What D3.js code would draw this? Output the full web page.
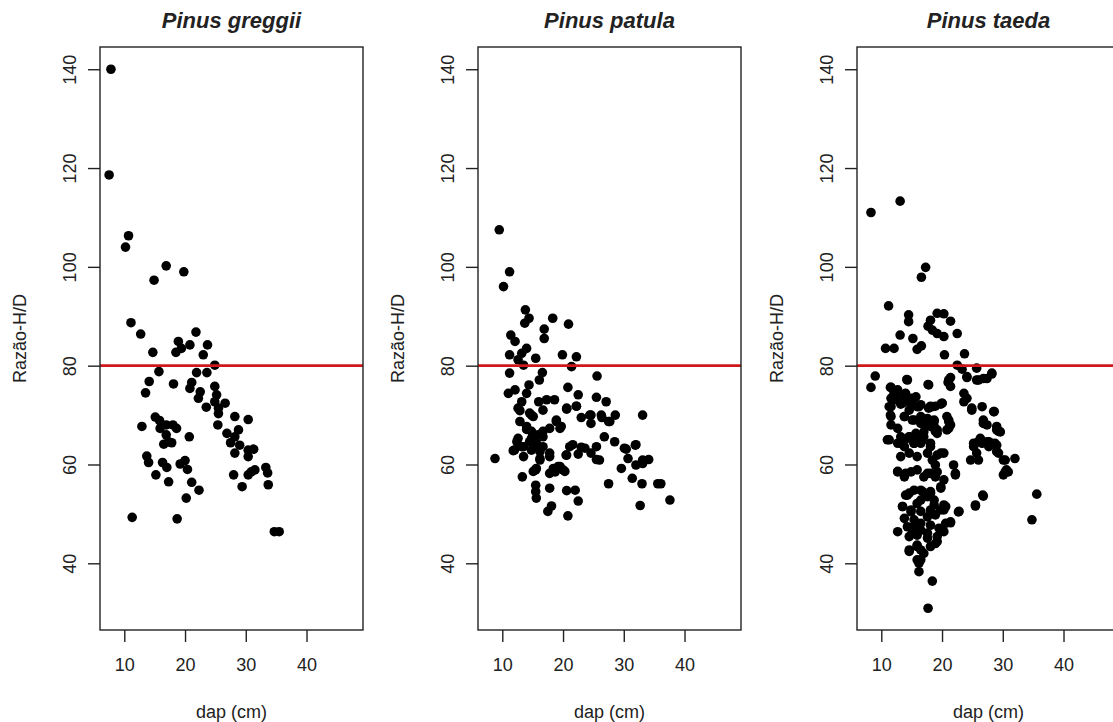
<!DOCTYPE html>
<html>
<head>
<meta charset="utf-8">
<script src="https://cdn.jsdelivr.net/npm/d3@7"></script>
<style>
  body { margin: 0; background: #fff; }
  text { font-family: "Liberation Sans", Arial, sans-serif; fill: #222; }
</style>
</head>
<body>
<svg id="chart" width="1113" height="722"></svg>
<script>
// [dap (cm), razão H/D]
const greggii = [
  [7.8,140.0],[7.5,118.6],[10.7,106.3],[10.2,104.0],[16.9,100.2],[14.9,97.3],[19.8,99.0],
  [11.1,88.7],[12.7,86.4],[21.8,86.8],[14.7,82.7],[18.9,84.9],[18.5,82.7],[19.4,83.5],
  [20.8,84.2],[23.7,84.2],[23.0,82.2],[15.7,78.8],[14.1,76.8],[13.5,74.5],[18.1,76.3],
  [21.9,78.6],[23.6,78.6],[24.9,80.1],[21.1,76.6],[20.8,75.4],[22.5,74.7],[22.2,73.4],
  [23.5,71.6],[24.9,75.8],[25.2,74.1],[24.9,72.7],[26.6,72.4],[25.5,71.4],[25.5,70.3],
  [28.2,69.7],[30.4,69.1],[25.4,68.0],[26.9,66.3],[28.8,67.0],[28.2,65.6],[27.5,64.4],
  [29.0,63.9],[28.2,62.3],[30.4,62.9],[31.3,63.1],[30.4,61.6],[30.9,58.5],[31.5,58.9],
  [30.4,57.9],[33.3,59.4],[33.6,58.3],[33.7,55.9],[28.0,57.9],[29.4,55.5],[34.7,46.4],
  [35.5,46.4],[15.1,69.6],[15.8,68.9],[15.9,67.3],[16.9,68.0],[18.0,68.0],[18.6,67.3],
  [16.9,66.0],[17.3,64.6],[16.5,64.1],[17.8,64.4],[20.7,65.6],[12.9,67.7],[13.7,61.7],
  [14.0,60.4],[16.3,60.4],[17.0,59.4],[15.2,57.9],[17.3,56.5],[19.2,60.1],[20.0,60.8],
  [20.4,59.0],[21.1,56.4],[22.3,54.8],[20.2,53.2],[11.3,49.3],[18.7,49.0]
];

const patula = [
  [9.5,107.5],[11.2,99.0],[10.2,96.0],[13.8,91.3],[14.4,89.6],[13.7,88.6],[18.3,89.6],
  [20.9,88.4],[16.9,87.4],[16.9,85.5],[11.4,86.2],[12.1,84.9],[14.0,83.5],[13.2,82.5],
  [11.2,82.2],[12.6,81.2],[15.5,81.5],[13.5,80.1],[19.9,82.2],[22.2,81.8],[21.4,79.8],
  [11.2,78.5],[16.6,78.6],[16.1,77.1],[25.6,77.9],[12.1,75.1],[11.0,74.4],[14.4,76.1],
  [14.0,74.4],[20.8,75.6],[22.5,74.1],[25.5,73.6],[27.1,72.7],[13.2,72.7],[16.0,72.7],
  [17.3,73.1],[18.6,73.1],[16.7,71.0],[20.6,71.2],[22.2,71.8],[12.9,70.9],[14.8,70.0],
  [23.0,69.5],[24.6,70.0],[26.4,69.5],[28.6,70.0],[33.1,70.0],[12.9,68.7],[18.9,69.0],
  [24.6,68.3],[27.5,68.7],[19.7,67.7],[14.0,67.1],[17.8,67.3],[26.8,65.6],[28.5,64.6],
  [12.6,65.3],[14.8,65.3],[16.7,65.6],[16.0,63.6],[12.0,62.9],[13.5,63.6],[21.1,63.6],
  [23.0,63.5],[25.5,63.6],[30.1,63.3],[31.9,63.9],[20.6,61.9],[22.5,62.1],[24.6,62.3],
  [25.5,61.0],[13.5,61.6],[16.2,61.2],[17.8,61.6],[30.7,61.2],[32.0,59.9],[34.1,61.0],
  [33.1,60.2],[8.8,61.2],[29.6,59.2],[15.5,58.9],[17.8,58.2],[19.5,59.6],[20.3,58.6],
  [13.3,57.5],[31.4,57.2],[33.0,56.1],[35.6,56.1],[36.1,56.1],[27.5,56.1],[15.5,55.8],
  [17.8,55.2],[20.6,54.7],[22.0,54.8],[15.6,53.2],[22.5,52.6],[18.1,51.6],[17.5,50.5],
  [20.8,49.6],[32.7,51.7],[37.6,52.8],[15.5,54.5],
  [12.6,71.4],[14.5,70.4],[15.1,69.7],[14.0,67.7],[14.8,66.7],[15.9,66.0],[16.7,66.7],
  [18.9,68.7],[19.5,67.3],[20.6,71.4],[22.2,71.8],[24.4,70.0],[26.3,70.0],[27.7,68.7],
  [12.4,64.6],[13.2,63.6],[14.5,64.6],[15.6,64.3],[16.7,63.6],[17.8,62.3],[14.8,62.9],
  [16.2,62.6],[21.6,64.0],[23.6,63.3],[26.0,60.9],[20.5,61.9],[32.0,64.0],[30.4,63.1],
  [33.1,60.9],[18.4,59.2],[19.2,59.6],[20.0,58.9],[18.7,58.5],[15.1,58.6],[15.6,59.2],
  [11.8,62.8],[16.2,60.9]
];

const taeda = [
  [8.3,111.0],[13.1,113.3],[17.3,99.9],[16.6,97.9],[11.2,92.1],[14.5,90.3],[14.5,88.9],
  [13.1,86.2],[15.2,85.5],[10.7,83.5],[12.1,83.5],[15.9,83.3],[16.6,84.0],[19.2,90.6],
  [20.3,90.5],[21.4,89.0],[18.1,89.2],[17.7,88.0],[18.4,87.2],[19.2,86.5],[20.3,85.9],
  [22.5,86.5],[20.4,82.2],[23.7,82.4],[22.5,80.1],[23.3,79.3],[25.7,79.5],[9.0,77.9],
  [8.3,75.6],[14.2,77.2],[17.7,76.2],[21.4,77.6],[21.0,76.6],[24.1,77.6],[26.0,77.1],
  [27.4,77.4],[28.2,78.3],
  [11.6,75.6],[12.1,74.5],[11.6,73.4],[12.9,73.4],[14.0,74.4],[14.9,73.4],[13.5,72.4],
  [15.4,72.0],[11.6,71.7],[15.9,71.7],
  [23.6,74.4],[24.1,73.4],[24.9,71.4],[26.6,71.7],[28.5,70.7],[26.8,69.0],[27.4,68.0],
  [29.0,67.7],[29.6,66.6],
  [17.8,71.4],[18.9,71.8],[20.0,72.4],[16.5,69.7],[17.6,69.3],[18.7,68.7],[17.3,67.7],
  [18.1,67.7],[19.2,67.0],[20.8,69.7],[21.1,68.7],[20.8,67.0],
  [11.6,69.7],[11.6,68.0],[12.7,67.3],[11.0,65.0],[13.2,65.6],[14.3,65.3],[15.4,64.3],
  [16.5,64.3],[18.1,64.3],[25.2,64.3],[26.3,65.3],[27.7,64.6],[29.0,63.9],
  [13.2,72.2],[14.9,72.1],[16.5,72.1],[18.1,71.8],[19.8,72.2],[23.6,72.7],[24.9,71.0],
  [28.6,70.7],[13.8,69.7],[15.4,69.0],[16.5,68.3],[17.6,68.0],[18.7,69.0],[18.9,66.7],
  [21.1,69.0],[21.1,67.3],[26.8,68.3],[29.0,67.0],[29.3,66.7],
  [13.2,64.3],[14.6,65.6],[15.9,65.3],[17.0,65.6],[18.1,63.6],[19.2,61.9],[20.3,62.3],
  [25.2,63.6],[26.0,64.6],[27.4,64.6],[28.7,64.3],[29.0,62.6],[30.1,60.9],[32.0,61.2],
  [24.7,60.9],[26.0,60.9],
  [12.7,58.5],[13.8,57.5],[14.9,58.5],[15.9,58.9],[17.0,57.5],[18.1,58.2],[19.2,58.5],
  [18.9,59.9],[21.9,59.9],[22.2,57.9],[30.4,58.5],[30.9,58.5],[30.1,57.9],
  [14.3,53.8],[15.4,54.8],[16.5,52.8],[17.6,53.5],[18.7,52.8],[19.8,55.2],[20.6,51.5],
  [18.1,50.8],[13.5,51.5],[14.9,50.8],[16.5,50.5],[18.9,49.8],[20.3,50.8],
  [26.8,53.6],[25.5,51.6],[22.8,50.5],[35.6,54.0],[34.8,48.8],
  [12.7,46.4],[14.3,47.4],[15.4,47.4],[16.5,48.1],[18.1,47.7],[19.5,47.1],[20.6,48.1],
  [21.4,48.2],[14.6,45.4],[15.9,45.7],[17.6,45.1],[18.9,44.0],[19.2,45.4],
  [14.6,42.4],[15.9,43.4],[17.0,42.0],[16.5,40.7],[16.2,40.0],[16.2,38.3],[18.4,36.4],
  [17.7,30.9],
  [11.5,75.6],[11.9,73.7],[11.3,71.7],[11.5,70.0],[11.3,65.0],[12.1,73.1],[12.7,75.1],
  [14.3,77.1],[13.8,73.7],[14.9,73.1],[15.7,73.7],[16.2,71.7],[14.6,71.0],
  [17.8,76.1],[18.4,71.7],[20.0,72.4],
  [13.8,69.7],[15.1,69.0],[17.6,69.0],[18.7,67.7],[17.0,66.6],[15.7,66.3],[14.6,65.6],
  [12.7,64.3],[13.8,63.6],[15.4,64.3],[16.8,65.0],[19.2,66.3],
  [13.2,61.6],[14.6,62.3],[15.9,61.6],[17.6,62.3],[18.4,60.9],[19.8,62.3],
  [12.7,58.6],[14.0,58.2],[17.6,58.2],[18.9,57.5],[20.3,56.9],
  [14.6,54.2],[16.5,54.8],[18.1,54.5],[19.8,55.5],
  [21.1,77.1],[21.4,75.8],[21.4,68.0],[22.2,58.2],
  [26.6,64.3],[27.7,63.6],[29.3,62.3],[30.4,60.9],[25.7,62.3],[30.6,58.9],
  [24.1,77.8],[25.7,77.1],[26.8,77.4],[28.2,78.5],
  [13.5,51.5],[14.0,53.8],[14.9,50.4],[15.9,52.1],[16.8,54.5],[18.1,54.2],[18.7,51.8],
  [19.8,50.8],[20.3,51.8],[21.4,48.4],[20.3,46.4],[19.2,44.4],[18.1,43.4],[16.5,42.7],
  [15.1,46.1],[16.5,46.7],[17.6,46.1],[15.4,48.8],[17.6,49.4],[14.6,42.7],[15.9,40.7],
  [22.7,50.4],[25.5,51.8],[26.7,53.8],[13.8,49.1],[15.9,43.7]
];

const species = ["Pinus greggii", "Pinus patula", "Pinus taeda"];
const seriesList = [greggii, patula, taeda];
const xTicks = [10, 20, 30, 40];
const yTicks = [40, 60, 80, 100, 120, 140];
const xDomain = [6.0, 49.3];
const yDomain = [26.5, 144.5];
const refLine = 80;

const svg = d3.select("#chart");
const panelW = 263, panelH = 583, plotTop = 47;
const lefts = [100, 478, 857];

const x = d3.scaleLinear().domain(xDomain).range([0, panelW]);
const y = d3.scaleLinear().domain(yDomain).range([panelH, 0]);

species.forEach((name, i) => {
  const g = svg.append("g").attr("transform", `translate(${lefts[i]},${plotTop})`);

  // points
  g.append("g").selectAll("circle")
    .data(seriesList[i])
    .join("circle")
    .attr("cx", d => x(d[0]))
    .attr("cy", d => y(d[1]))
    .attr("r", 4.8)
    .attr("fill", "#000");

  // abline h = 80
  g.append("line")
    .attr("x1", 0).attr("x2", panelW)
    .attr("y1", y(refLine)).attr("y2", y(refLine))
    .attr("stroke", "#d01818").attr("stroke-width", 2.6);

  // box
  g.append("rect")
    .attr("width", panelW).attr("height", panelH)
    .attr("fill", "none").attr("stroke", "#222").attr("stroke-width", 1.4);

  // x axis
  const xa = g.append("g").attr("transform", `translate(0,${panelH})`)
    .call(d3.axisBottom(x).tickValues(xTicks).tickSize(12).tickPadding(16));
  xa.select(".domain").remove();
  xa.selectAll("line").attr("stroke", "#222").attr("stroke-width", 1.4);
  xa.selectAll("text").attr("font-size", 18).attr("fill", "#222")
    .style("font-family", "'Liberation Sans', Arial, sans-serif");

  // y axis
  const ya = g.append("g")
    .call(d3.axisLeft(y).tickValues(yTicks).tickSize(12));
  ya.select(".domain").remove();
  ya.selectAll("line").attr("stroke", "#222").attr("stroke-width", 1.4);
  ya.selectAll("text")
    .attr("x", null)
    .attr("text-anchor", "middle")
    .attr("transform", "translate(-30,0) rotate(-90)")
    .attr("dy", "0.35em")
    .attr("font-size", 18).attr("fill", "#222")
    .style("font-family", "'Liberation Sans', Arial, sans-serif");

  // titles
  g.append("text")
    .attr("x", panelW / 2).attr("y", -19)
    .attr("text-anchor", "middle")
    .attr("font-size", 22).attr("font-weight", "bold").attr("font-style", "italic")
    .attr("fill", "#111")
    .text(name);

  g.append("text")
    .attr("x", panelW / 2).attr("y", panelH + 88)
    .attr("text-anchor", "middle")
    .attr("font-size", 18)
    .text("dap (cm)");

  g.append("text")
    .attr("transform", `translate(-80,${panelH / 2}) rotate(-90)`)
    .attr("text-anchor", "middle")
    .attr("dy", "0.35em")
    .attr("font-size", 18)
    .text("Razão-H/D");
});
</script>
</body>
</html>
